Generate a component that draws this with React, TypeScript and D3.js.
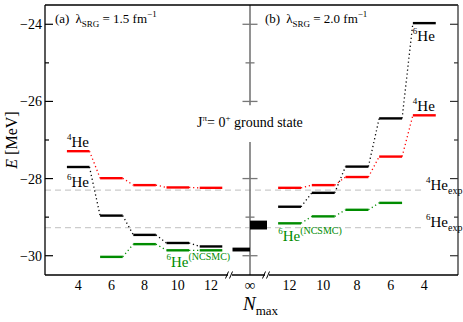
import React from 'react';
import * as d3 from 'd3';

// panel (a): lambda = 1.5 fm^-1
const nmaxA = [4, 6, 8, 10, 12];
const he4A = [-27.29, -27.99, -28.17, -28.23, -28.24];
const he6A = [-27.7, -28.96, -29.46, -29.67, -29.76];
const nmaxNcsmcA = [6, 8, 10, 12];
const ncsmcA = [-30.03, -29.7, -29.86, -29.86];
const infA = [-29.89, -29.79];

// panel (b): lambda = 2.0 fm^-1
const nmaxB = [12, 10, 8, 6, 4];
const he4B = [-28.24, -28.17, -27.96, -27.43, -26.36];
const he6B = [-28.73, -28.37, -27.69, -26.44, -23.97];
const nmaxNcsmcB = [12, 10, 8, 6];
const ncsmcB = [-29.16, -28.98, -28.81, -28.63];
const infB = [-29.32, -29.09];

const he4Exp = -28.3;
const he6Exp = -29.27;

const yTicks = [-24, -26, -28, -30];
const yMinor = [-25, -27, -29];

const W = 463;
const H = 322;
const left = 45, right = 458, top = 5, bottom = 275, mid = 250;
const halfW = 0.68;

const RED = '#ff0000';
const GREEN = '#008c00';
const FONT = "'Liberation Serif', serif";

const y = d3.scaleLinear().domain([-30.5, -23.5]).range([bottom, top]);
const xA = d3.scaleLinear().domain([2, 14.35]).range([left, mid]);
const xB = d3.scaleLinear().domain([2, 14.35]).range([right, mid]);

type Sc = d3.ScaleLinear<number, number>;

const Levels = ({ xs, es, x, color }: { xs: number[]; es: number[]; x: Sc; color: string }) => {
  const pts = xs.map((n, i) => ({ x0: Math.min(x(n - halfW), x(n + halfW)), x1: Math.max(x(n - halfW), x(n + halfW)), e: es[i] }));
  pts.sort((a, b) => a.x0 - b.x0);
  return (
    <g>
      {pts.slice(1).map((p, i) => (
        <line key={'c' + i} x1={pts[i].x1} y1={y(pts[i].e)} x2={p.x0} y2={y(p.e)}
          stroke={color} strokeWidth={1.3} strokeDasharray="1.2,2.8" />
      ))}
      {pts.map((p, i) => (
        <line key={'b' + i} x1={p.x0} x2={p.x1} y1={y(p.e)} y2={y(p.e)} stroke={color} strokeWidth={2.4} />
      ))}
    </g>
  );
};

const He = ({ x0, yy, mass, color = '#000', sub, sup }: { x0: number; yy: number; mass: string; color?: string; sub?: string; sup?: string }) => (
  <text x={x0} y={yy} fill={color} fontSize={15}>
    <tspan fontSize={9} dy={-7}>{mass}</tspan>
    <tspan dy={7}>He</tspan>
    {sub && <tspan fontSize={10} dy={4}>{sub}</tspan>}
    {sup && <tspan fontSize={10} dy={-7}>{sup}</tspan>}
  </text>
);

const Title = ({ x0, tag, val }: { x0: number; tag: string; val: string }) => (
  <text x={x0} y={23} fontSize={13}>
    {tag}
    <tspan dx={6}>λ</tspan>
    <tspan fontSize={9} dy={4}>SRG</tspan>
    <tspan dy={-4}> = {val} fm</tspan>
    <tspan fontSize={9} dy={-6}>−1</tspan>
  </text>
);

export default function App() {
  const brk = (bx: number) => (
    <g key={bx} stroke="#000" strokeWidth={1}>
      <line x1={bx - 2.5} y1={bottom + 3.5} x2={bx + 0.5} y2={bottom - 3.5} />
      <line x1={bx + 1.5} y1={bottom + 3.5} x2={bx + 4.5} y2={bottom - 3.5} />
    </g>
  );
  return (
    <svg width={W} height={H} style={{ position: 'absolute', left: 0, top: 0, background: '#fff', fontFamily: FONT }}>
      {/* experiment lines */}
      {[he4Exp, he6Exp].map((e) => (
        <line key={e} x1={left} x2={424} y1={y(e)} y2={y(e)} stroke="#cccccc" strokeWidth={1.3} strokeDasharray="6,4" />
      ))}

      {/* centre axis */}
      <line x1={mid} x2={mid} y1={top} y2={y(-26.1)} stroke="#777" strokeWidth={1.6} />
      <line x1={mid} x2={mid} y1={y(-27.05)} y2={bottom} stroke="#777" strokeWidth={1.6} />
      {yTicks.map((t) => (
        <line key={'cm' + t} x1={mid - 7.5} x2={mid + 7.5} y1={y(t)} y2={y(t)} stroke="#777" strokeWidth={1.3} />
      ))}
      {yMinor.filter((t) => t !== -27).map((t) => (
        <line key={'cn' + t} x1={mid - 4.5} x2={mid + 4.5} y1={y(t)} y2={y(t)} stroke="#777" strokeWidth={1.3} />
      ))}

      {/* frame */}
      <line x1={left} x2={right} y1={top} y2={top} stroke="#000" strokeWidth={1.3} />
      <line x1={left} x2={left} y1={top} y2={bottom} stroke="#000" strokeWidth={1.3} />
      <line x1={right} x2={right} y1={top} y2={bottom} stroke="#333" strokeWidth={1.3} />
      <line x1={left} x2={228} y1={bottom} y2={bottom} stroke="#000" strokeWidth={1.3} />
      <line x1={232} x2={265} y1={bottom} y2={bottom} stroke="#000" strokeWidth={1.3} />
      <line x1={269} x2={right} y1={bottom} y2={bottom} stroke="#000" strokeWidth={1.3} />
      {brk(228)}
      {brk(265)}
      {yTicks.map((t) => (
        <g key={'t' + t}>
          <line x1={left} x2={left + 8} y1={y(t)} y2={y(t)} stroke="#000" strokeWidth={1.2} />
          <line x1={right - 8} x2={right} y1={y(t)} y2={y(t)} stroke="#333" strokeWidth={1.2} />
          <text x={42} y={y(t) + 5} textAnchor="end" fontSize={14}>{'−' + Math.abs(t)}</text>
        </g>
      ))}
      {yMinor.map((t) => (
        <g key={'m' + t}>
          <line x1={left} x2={left + 4} y1={y(t)} y2={y(t)} stroke="#000" strokeWidth={1.2} />
          <line x1={right - 4} x2={right} y1={y(t)} y2={y(t)} stroke="#333" strokeWidth={1.2} />
        </g>
      ))}

      {/* x tick labels */}
      {nmaxA.map((n) => (
        <text key={'xa' + n} x={xA(n)} y={290} textAnchor="middle" fontSize={14}>{n}</text>
      ))}
      {nmaxB.map((n) => (
        <text key={'xb' + n} x={xB(n)} y={290} textAnchor="middle" fontSize={14}>{n}</text>
      ))}
      <text x={mid} y={290} textAnchor="middle" fontSize={15}>∞</text>

      {/* level schemes */}
      <Levels xs={nmaxA} es={he4A} x={xA} color={RED} />
      <Levels xs={nmaxA} es={he6A} x={xA} color="#000" />
      <Levels xs={nmaxNcsmcA} es={ncsmcA} x={xA} color={GREEN} />
      <Levels xs={nmaxB} es={he4B} x={xB} color={RED} />
      <Levels xs={nmaxB} es={he6B} x={xB} color="#000" />
      <Levels xs={nmaxNcsmcB} es={ncsmcB} x={xB} color={GREEN} />

      {/* extrapolated bands */}
      <rect x={232.5} width={mid - 232.5} y={y(infA[1])} height={y(infA[0]) - y(infA[1])} fill="#000" />
      <rect x={mid} width={17} y={y(infB[1])} height={y(infB[0]) - y(infB[1])} fill="#000" />

      {/* labels */}
      <He x0={xA(4 - halfW)} yy={y(he4A[0]) - 4} mass="4" />
      <He x0={xA(4 - halfW)} yy={y(he6A[0]) + 20} mass="6" />
      <He x0={xA(10 - halfW)} yy={y(ncsmcA[2]) + 17} mass="6" color={GREEN} sup="(NCSMC)" />
      <He x0={xB(4 + halfW)} yy={y(he6B[4]) + 18} mass="6" />
      <He x0={xB(4 + halfW)} yy={y(he4B[4]) - 4} mass="4" />
      <He x0={xB(12 + halfW)} yy={y(ncsmcB[0]) + 18} mass="6" color={GREEN} sup="(NCSMC)" />
      <He x0={426} yy={y(he4Exp)} mass="4" sub="exp" />
      <He x0={426} yy={y(he6Exp) - 1} mass="6" sub="exp" />

      <Title x0={55} tag="(a)" val="1.5" />
      <Title x0={265} tag="(b)" val="2.0" />

      <text x={197} y={127} fontSize={14}>
        J<tspan fontSize={9} dy={-6}>π</tspan>
        <tspan dy={6}>= 0</tspan>
        <tspan fontSize={9} dy={-6}>+</tspan>
        <tspan dy={6}> ground state</tspan>
      </text>

      <text transform="translate(17,140) rotate(-90)" textAnchor="middle" fontSize={16}>
        <tspan fontStyle="italic">E</tspan> [MeV]
      </text>

      <text x={243} y={310} fontSize={19}>
        <tspan fontStyle="italic">N</tspan>
        <tspan fontSize={13} dy={5}>max</tspan>
      </text>
    </svg>
  );
}
